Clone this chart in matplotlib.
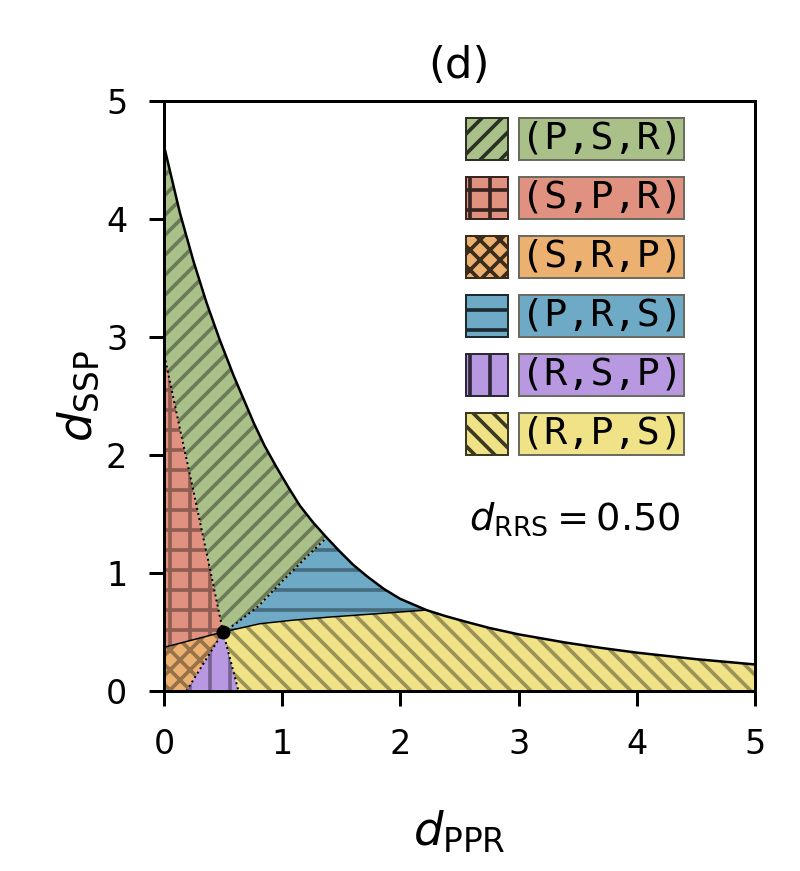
from __future__ import annotations

from typing import List, Sequence

import numpy as np
import matplotlib.pyplot as plt
from matplotlib.patches import Polygon, Rectangle
from matplotlib.colors import to_rgb

plt.rcParams["font.family"] = ["DejaVu Sans"]
plt.rcParams["mathtext.fontset"] = "dejavusans"
plt.rcParams["hatch.linewidth"] = 1.1

# outer edge of the region (solid curve)
edge_x: List[float] = [0.00, 0.135, 0.25, 0.36, 0.47, 0.59, 0.76, 0.85, 0.95,
                       1.05, 1.15, 1.26, 1.376, 1.48, 1.60, 1.72, 1.86, 2.00,
                       2.22, 2.38, 2.56, 2.75, 3.00, 3.40, 3.70, 4.00, 4.50, 5.00]
edge_y: List[float] = [4.62, 4.05, 3.64, 3.29, 2.98, 2.67, 2.27, 2.08, 1.90,
                       1.73, 1.57, 1.43, 1.30, 1.19, 1.07, 0.97, 0.865, 0.78,
                       0.686, 0.635, 0.585, 0.535, 0.48, 0.41, 0.365, 0.325, 0.27, 0.225]

# triple point
mid_x: float = 0.5
mid_y: float = 0.5

# internal boundaries, all starting at the triple point
psr_spr_x = [0.5, 0.375, 0.25, 0.135, 0.0]
psr_spr_y = [0.5, 1.10, 1.69, 2.22, 2.86]
spr_srp_x = [0.5, 0.0]
spr_srp_y = [0.5, 0.37]
srp_rsp_x = [0.5, 0.19]
srp_rsp_y = [0.5, 0.0]
rsp_rps_x = [0.5, 0.63]
rsp_rps_y = [0.5, 0.0]
psr_prs_x = [0.5, 0.62, 0.80, 1.00, 1.20, 1.376]
psr_prs_y = [0.5, 0.58, 0.72, 0.93, 1.13, 1.30]
prs_rps_x = [0.5, 0.81, 1.09, 1.38, 1.66, 1.94, 2.22]
prs_rps_y = [0.5, 0.57, 0.60, 0.625, 0.645, 0.665, 0.686]

labels: Sequence[str] = ["(P,S,R)", "(S,P,R)", "(S,R,P)", "(P,R,S)", "(R,S,P)", "(R,P,S)"]
colors: Sequence[str] = ["#a9c088", "#e09180", "#ecb070", "#6eaac6", "#b998e2", "#f0e286"]
# diagonal hatches come out twice as sparse, so they get twice the strokes
hatches: Sequence[str] = ["////", "++", "xxxx", "--", "||", "\\\\\\\\"]

d_rrs: float = 0.50


def pts(xs, ys) -> np.ndarray:
    return np.column_stack([xs, ys])


def darker(color: str, factor: float):
    return tuple(c * factor for c in to_rgb(color))


edge = pts(edge_x, edge_y)
i_gb = edge_x.index(psr_prs_x[-1])
i_by = edge_x.index(prs_rps_x[-1])

psr_spr = pts(psr_spr_x, psr_spr_y)
spr_srp = pts(spr_srp_x, spr_srp_y)
srp_rsp = pts(srp_rsp_x, srp_rsp_y)
rsp_rps = pts(rsp_rps_x, rsp_rps_y)
psr_prs = pts(psr_prs_x, psr_prs_y)
prs_rps = pts(prs_rps_x, prs_rps_y)

# same order as labels
regions = [
    np.vstack([psr_spr, edge[: i_gb + 1], psr_prs[::-1]]),                        # (P,S,R)
    np.vstack([psr_spr, spr_srp[::-1]]),                                           # (S,P,R)
    np.vstack([spr_srp, [[0.0, 0.0]], srp_rsp[::-1]]),                             # (S,R,P)
    np.vstack([psr_prs, edge[i_gb: i_by + 1], prs_rps[::-1]]),                     # (P,R,S)
    np.vstack([srp_rsp, rsp_rps[::-1]]),                                           # (R,S,P)
    np.vstack([prs_rps, edge[i_by:], [[edge_x[-1], 0.0]], rsp_rps[::-1]]),         # (R,P,S)
]

fig = plt.figure(figsize=(800 / 240, 871 / 240), dpi=240)
ax = fig.add_axes([164 / 800, 1 - 691 / 871, 591 / 800, 590 / 871])

for poly, color, hatch in zip(regions, colors, hatches):
    ax.add_patch(Polygon(poly, closed=True, facecolor=color,
                         edgecolor=darker(color, 0.64), linewidth=0, hatch=hatch))

dotted = (0, (1, 1.6))
for xs, ys in [(psr_spr_x, psr_spr_y), (srp_rsp_x, srp_rsp_y),
               (rsp_rps_x, rsp_rps_y), (psr_prs_x, psr_prs_y)]:
    ax.plot(xs, ys, color="k", lw=0.6, ls=dotted)
for xs, ys in [(spr_srp_x, spr_srp_y), (prs_rps_x, prs_rps_y)]:
    ax.plot(xs, ys, color="k", lw=0.45)

ax.plot(edge_x, edge_y, color="k", lw=0.75)
ax.plot([mid_x], [mid_y], "o", color="k", ms=3.2)

# legend boxes drawn by hand
for k, (label, color, hatch) in enumerate(zip(labels, colors, hatches)):
    yc = 0.9356 - 0.1 * k
    ax.add_patch(Rectangle((0.511, yc - 0.0356), 0.071, 0.0712, transform=ax.transAxes,
                           facecolor=color, edgecolor=darker(color, 0.25),
                           hatch=hatch, lw=0.6, zorder=5))
    ax.add_patch(Rectangle((0.6007, yc - 0.0356), 0.279, 0.0712, transform=ax.transAxes,
                           facecolor=color, edgecolor="#6b6b60", lw=0.6, zorder=5))
    ax.text(0.7402, yc, label, transform=ax.transAxes, ha="center", va="center",
            family="DejaVu Sans Mono", fontsize=11.5, zorder=6)

ax.text(0.695, 0.273, rf"$d_\mathrm{{RRS}} = {d_rrs:.2f}$", transform=ax.transAxes,
        ha="center", va="baseline", fontsize=11.5)

ax.set_xlim(0, 5)
ax.set_ylim(0, 5)
ax.set_xticks(range(6))
ax.set_yticks(range(6))
ax.tick_params(labelsize=10, length=4.5, width=0.9, pad=6.5)
for spine in ax.spines.values():
    spine.set_linewidth(0.9)

ax.set_title("(d)", fontsize=13, pad=7)
ax.set_xlabel(r"$d_\mathrm{PPR}$", fontsize=14)
ax.set_ylabel(r"$d_\mathrm{SSP}$", fontsize=14)
ax.xaxis.set_label_coords(0.5, -0.2)
ax.yaxis.set_label_coords(-0.105, 0.5)

fig.savefig("out.png", dpi=240)
plt.close(fig)
